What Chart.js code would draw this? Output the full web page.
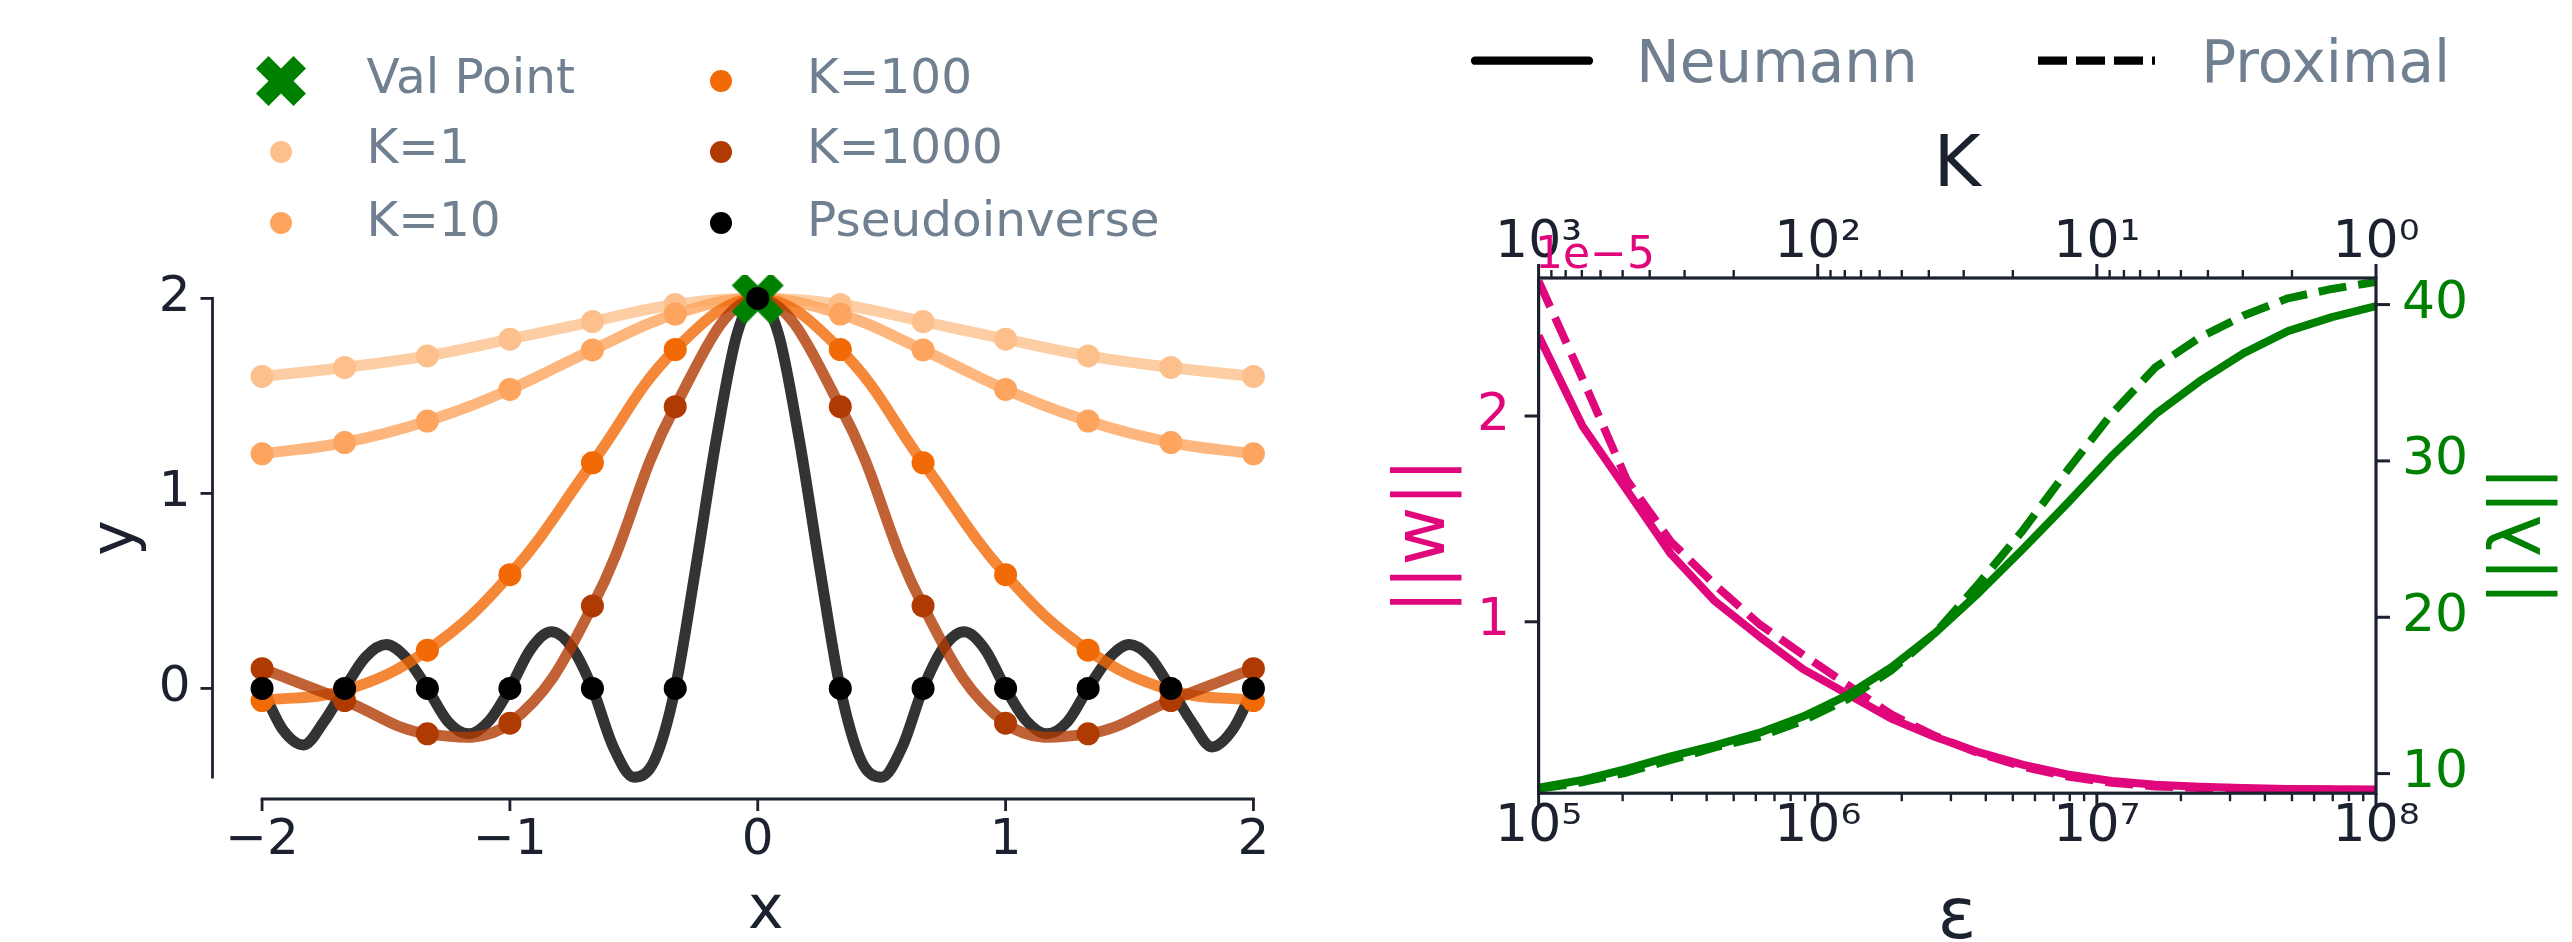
<!DOCTYPE html>
<html>
<head>
<meta charset="utf-8">
<script src="https://cdn.jsdelivr.net/npm/chart.js@4.4.1/dist/chart.umd.min.js"></script>
<style>
  html, body { margin: 0; padding: 0; background: #fff; }
  body { width: 2572px; height: 942px; position: relative; overflow: hidden; font-family: 'DejaVu Sans', sans-serif; }
  canvas.plot { position: absolute; top: 0; }
  #overlay { position: absolute; left: 0; top: 0; width: 2572px; height: 942px; }
  .txt { position: absolute; line-height: 1; white-space: nowrap; }
  .rot { position: absolute; line-height: 1; white-space: nowrap; transform: translate(-50%, -50%) rotate(-90deg); }
  .dot { position: absolute; border-radius: 50%; }
</style>
</head>
<body>
<canvas class="plot" id="fitChart" width="1330" height="942" style="left:0"></canvas>
<canvas class="plot" id="normChart" width="1242" height="942" style="left:1330px"></canvas>
<div id="overlay"></div>
<script>
// ---- left panel: fits through the 13 nodes ----
const nodeX = [-2, -1.667, -1.333, -1, -0.667, -0.333, 0, 0.333, 0.667, 1, 1.333, 1.667, 2];
const fitK1 = [1.60, 1.646, 1.705, 1.791, 1.881, 1.969, 2.0, 1.969, 1.881, 1.791, 1.705, 1.646, 1.60];
const fitK10 = [1.203, 1.261, 1.371, 1.533, 1.736, 1.92, 2.0, 1.92, 1.736, 1.533, 1.371, 1.261, 1.203];
const fitK100 = [-0.062, -0.01, 0.196, 0.583, 1.157, 1.738, 2.0, 1.738, 1.157, 0.583, 0.196, -0.01, -0.062];
const fitK1000 = [0.101, -0.062, -0.233, -0.178, 0.423, 1.445, 2.0, 1.445, 0.423, -0.178, -0.233, -0.062, 0.101];
const fitPinv = [0, 0, 0, 0, 0, 0, 2, 0, 0, 0, 0, 0, 0];
const valPoint = [0, 2];

// pseudoinverse curve, read between the nodes
const denseX = [-2, -1.917, -1.833, -1.75, -1.667, -1.583, -1.5, -1.417, -1.333, -1.25, -1.167, -1.083, -1,
  -0.917, -0.833, -0.75, -0.667, -0.583, -0.5, -0.417, -0.333, -0.25, -0.167, -0.083, 0,
  0.083, 0.167, 0.25, 0.333, 0.417, 0.5, 0.583, 0.667, 0.75, 0.833, 0.917, 1,
  1.083, 1.167, 1.25, 1.333, 1.417, 1.5, 1.583, 1.667, 1.75, 1.833, 1.917, 2];
const pinvCurve = [0, -0.21, -0.29, -0.17, 0, 0.16, 0.225, 0.155, 0, -0.17, -0.233, -0.165, 0,
  0.2, 0.29, 0.21, 0, -0.3, -0.455, -0.37, 0, 0.62, 1.28, 1.82, 2,
  1.82, 1.28, 0.62, 0, -0.37, -0.455, -0.3, 0, 0.21, 0.29, 0.2, 0,
  -0.165, -0.233, -0.17, 0, 0.155, 0.225, 0.16, 0, -0.17, -0.3, -0.21, 0];

const fitXTicks = [-2, -1, 0, 1, 2];
const fitYTicks = [0, 1, 2];

// ---- right panel: norms vs epsilon ----
const epsilon = [1.0e5, 1.438e5, 2.069e5, 2.976e5, 4.281e5, 6.158e5, 8.859e5, 1.274e6, 1.833e6, 2.637e6,
  3.793e6, 5.456e6, 7.848e6, 1.129e7, 1.624e7, 2.336e7, 3.360e7, 4.833e7, 6.952e7, 1.0e8];
// ||w|| in units of 1e-5
const wNeumann = [2.39, 1.95, 1.64, 1.33, 1.10, 0.93, 0.77, 0.65, 0.53, 0.44, 0.365, 0.305, 0.258, 0.226, 0.208, 0.198, 0.192, 0.188, 0.186, 0.185];
const wProximal = [2.655, 2.18, 1.69, 1.39, 1.18, 0.99, 0.84, 0.695, 0.55, 0.445, 0.36, 0.295, 0.248, 0.218, 0.2, 0.192, 0.187, 0.185, 0.184, 0.183];
const lamNeumann = [9.09, 9.6, 10.3, 11.1, 11.8, 12.6, 13.65, 15.0, 16.8, 19.0, 21.6, 24.4, 27.3, 30.3, 33.0, 35.1, 36.9, 38.3, 39.2, 39.9];
const lamProximal = [9.02, 9.45, 10.07, 10.87, 11.67, 12.35, 13.38, 14.75, 16.6, 19.0, 22.2, 25.6, 29.4, 33.0, 36.0, 37.9, 39.3, 40.4, 41.0, 41.45];

const epsTicks = [1e5, 1e6, 1e7, 1e8];
const kTicks = [1, 10, 100, 1000];
const wTicks = [1, 2];
const lamTicks = [10, 20, 30, 40];

const INK = '#1c2130';
const PINK = '#e0067b';
const GREEN = '#008000';
const LEGEND_GRAY = '#708090';
const FONT = 'DejaVu Sans';

Chart.defaults.font.family = FONT;

const pts = (xs, ys) => xs.map((x, i) => ({x: x, y: ys[i]}));

const SUP = {'0': '\u2070', '1': '\u00b9', '2': '\u00b2', '3': '\u00b3', '4': '\u2074',
  '5': '\u2075', '6': '\u2076', '7': '\u2077', '8': '\u2078', '9': '\u2079'};
function powLabel(v) {
  const e = Math.round(Math.log10(v));
  return '10' + String(e).split('').map(c => SUP[c]).join('');
}

function decadeTicks(majors) {
  const out = [];
  majors.forEach((m, i) => {
    out.push(m);
    if (i < majors.length - 1) for (let f = 2; f < 10; f++) out.push(m * f);
  });
  return out;
}

// filled "X" marker like matplotlib's
function makeXMarker(half, color) {
  const c = document.createElement('canvas');
  c.width = c.height = Math.ceil(half * 2) + 2;
  const g = c.getContext('2d');
  const u = half / (4 / Math.SQRT2);
  g.translate(c.width / 2, c.height / 2);
  g.rotate(Math.PI / 4);
  g.scale(u, u);
  const p = [[-1, -3], [1, -3], [1, -1], [3, -1], [3, 1], [1, 1], [1, 3], [-1, 3], [-1, 1], [-3, 1], [-3, -1], [-1, -1]];
  g.beginPath();
  p.forEach((q, i) => i ? g.lineTo(q[0], q[1]) : g.moveTo(q[0], q[1]));
  g.closePath();
  g.fillStyle = color;
  g.fill();
  return c;
}

function seg(ctx, x1, y1, x2, y2) {
  ctx.beginPath();
  ctx.moveTo(x1, y1);
  ctx.lineTo(x2, y2);
  ctx.stroke();
}

const tickFont = size => ({family: FONT, size: size});

// ---------- left chart ----------
const fitLine = (ys, xs, color, order, extra) => Object.assign({
  data: pts(xs, ys), showLine: true, borderColor: color, borderWidth: 11,
  pointRadius: 0, fill: false, order: order, tension: 0.4
}, extra || {});
const fitDots = (ys, color, order) => ({
  data: pts(nodeX, ys), showLine: false, pointRadius: 11.5,
  pointBackgroundColor: color, pointBorderWidth: 0, order: order
});

const fitFrame = {
  id: 'fitFrame',
  afterDraw(chart) {
    const {ctx, chartArea: a, scales: {x, y}} = chart;
    ctx.save();
    ctx.strokeStyle = INK;
    ctx.lineWidth = 2.8;
    ctx.lineCap = 'square';
    seg(ctx, a.left, y.getPixelForValue(fitYTicks[fitYTicks.length - 1]), a.left, y.getPixelForValue(Math.min(...pinvCurve)));
    seg(ctx, x.getPixelForValue(fitXTicks[0]), a.bottom, x.getPixelForValue(fitXTicks[fitXTicks.length - 1]), a.bottom);
    ctx.lineCap = 'butt';
    fitYTicks.forEach(v => { const p = y.getPixelForValue(v); seg(ctx, a.left - 12, p, a.left, p); });
    fitXTicks.forEach(v => { const p = x.getPixelForValue(v); seg(ctx, p, a.bottom, p, a.bottom + 12); });
    ctx.restore();
  }
};

new Chart(document.getElementById('fitChart'), {
  type: 'scatter',
  data: {
    datasets: [
      fitDots(fitPinv, '#000000', 0),
      {data: [{x: valPoint[0], y: valPoint[1]}], showLine: false, pointStyle: makeXMarker(26, GREEN), pointRadius: 26, order: 1},
      fitDots(fitK1000, '#b03b02', 2),
      fitDots(fitK100, '#f16a06', 3),
      fitDots(fitK10, '#fda55e', 4),
      fitDots(fitK1, '#fdc08c', 5),
      fitLine(fitK1000, nodeX, 'rgba(176,59,2,0.8)', 6),
      fitLine(fitK100, nodeX, 'rgba(241,106,6,0.8)', 7),
      fitLine(fitK10, nodeX, 'rgba(253,165,94,0.8)', 8),
      fitLine(fitK1, nodeX, 'rgba(253,192,140,0.8)', 9),
      fitLine(pinvCurve, denseX, 'rgba(0,0,0,0.8)', 10, {cubicInterpolationMode: 'monotone'})
    ]
  },
  options: {
    responsive: false,
    animation: false,
    devicePixelRatio: 1,
    events: [],
    layout: {padding: {top: 275, right: 13.1, left: 0, bottom: 0}},
    plugins: {legend: {display: false}, tooltip: {enabled: false}},
    scales: {
      x: {
        type: 'linear', min: -2.2, max: 2.2,
        afterBuildTicks: s => { s.ticks = fitXTicks.map(v => ({value: v})); },
        afterFit: s => { s.height = 143; },
        grid: {display: false, drawTicks: false}, border: {display: false},
        ticks: {font: tickFont(50), color: INK, padding: 12, maxRotation: 0, autoSkip: false,
          callback: v => v < 0 ? '\u2212' + Math.abs(v) : String(v)}
      },
      y: {
        type: 'linear', min: -0.567, max: 2.12,
        afterBuildTicks: s => { s.ticks = fitYTicks.map(v => ({value: v})); },
        afterFit: s => { s.width = 212.5; },
        grid: {display: false, drawTicks: false}, border: {display: false},
        ticks: {font: tickFont(50), color: INK, padding: 22, autoSkip: false}
      }
    }
  },
  plugins: [fitFrame]
});

// ---------- right chart ----------
const normLine = (ys, color, axis, dashed, order) => ({
  data: pts(epsilon, ys), showLine: true, borderColor: color, borderWidth: 8,
  borderDash: dashed ? [28, 12] : [], borderCapStyle: 'butt', borderJoinStyle: 'round',
  pointRadius: 0, tension: 0, fill: false, xAxisID: 'x', yAxisID: axis, order: order
});

function marks(ctx, scale, values, majors, side, a) {
  values.forEach(v => {
    const p = scale.getPixelForValue(v);
    const major = majors.includes(v);
    const len = major ? 14 : 8;
    ctx.lineWidth = major ? 3 : 2.4;
    if (side === 'bottom') seg(ctx, p, a.bottom, p, a.bottom + len);
    if (side === 'top') seg(ctx, p, a.top, p, a.top - len);
    if (side === 'left') seg(ctx, a.left - len, p, a.left, p);
    if (side === 'right') seg(ctx, a.right, p, a.right + len, p);
  });
}

const normFrame = {
  id: 'normFrame',
  afterDraw(chart) {
    const {ctx, chartArea: a, scales} = chart;
    ctx.save();
    ctx.strokeStyle = INK;
    ctx.lineWidth = 3.2;
    ctx.strokeRect(a.left, a.top, a.right - a.left, a.bottom - a.top);
    marks(ctx, scales.x, decadeTicks(epsTicks), epsTicks, 'bottom', a);
    marks(ctx, scales.k, decadeTicks(kTicks), kTicks, 'top', a);
    marks(ctx, scales.yW, wTicks, wTicks, 'left', a);
    marks(ctx, scales.yL, lamTicks, lamTicks, 'right', a);
    ctx.restore();
  }
};

const logAxis = (majors, extra) => Object.assign({
  type: 'logarithmic',
  afterBuildTicks: s => { s.ticks = decadeTicks(majors).map(v => ({value: v, major: majors.includes(v)})); },
  grid: {display: false, drawTicks: false}, border: {display: false},
  ticks: {font: tickFont(52), color: INK, maxRotation: 0, autoSkip: false,
    callback: v => majors.includes(v) ? powLabel(v) : ''}
}, extra);

new Chart(document.getElementById('normChart'), {
  type: 'scatter',
  data: {
    datasets: [
      normLine(lamNeumann, GREEN, 'yL', false, 0),
      normLine(lamProximal, GREEN, 'yL', true, 1),
      normLine(wNeumann, PINK, 'yW', false, 2),
      normLine(wProximal, PINK, 'yW', true, 3)
    ]
  },
  options: {
    responsive: false,
    animation: false,
    devicePixelRatio: 1,
    events: [],
    layout: {padding: 0},
    plugins: {legend: {display: false}, tooltip: {enabled: false}},
    scales: {
      x: logAxis(epsTicks, {axis: 'x', position: 'bottom', min: 1e5, max: 1e8,
        afterFit: s => { s.height = 148.8; }}),
      k: logAxis(kTicks, {axis: 'x', position: 'top', min: 1, max: 1000, reverse: true,
        afterFit: s => { s.height = 278; }}),
      yW: {
        axis: 'y', type: 'linear', position: 'left', min: 0.1671, max: 2.6706,
        afterBuildTicks: s => { s.ticks = wTicks.map(v => ({value: v})); },
        afterFit: s => { s.width = 208.6; },
        grid: {display: false, drawTicks: false}, border: {display: false},
        ticks: {font: tickFont(52), color: PINK, padding: 28.6, autoSkip: false}
      },
      yL: {
        axis: 'y', type: 'linear', position: 'right', min: 8.746, max: 41.70,
        afterBuildTicks: s => { s.ticks = lamTicks.map(v => ({value: v})); },
        afterFit: s => { s.width = 196; },
        grid: {display: false, drawTicks: false}, border: {display: false},
        ticks: {font: tickFont(52), color: GREEN, padding: 26, autoSkip: false}
      }
    }
  },
  plugins: [normFrame]
});

// ---------- text and legends ----------
const overlay = document.getElementById('overlay');

function addText(str, x, baseline, size, color, center) {
  const d = document.createElement('div');
  d.className = 'txt';
  d.textContent = str;
  d.style.fontSize = size + 'px';
  d.style.color = color;
  d.style.left = x + 'px';
  d.style.top = (baseline - 0.846 * size) + 'px';
  if (center) d.style.transform = 'translateX(-50%)';
  overlay.appendChild(d);
}

function addRotated(str, cx, cy, size, color) {
  const d = document.createElement('div');
  d.className = 'rot';
  d.textContent = str;
  d.style.fontSize = size + 'px';
  d.style.color = color;
  d.style.left = cx + 'px';
  d.style.top = cy + 'px';
  overlay.appendChild(d);
}

function addDot(cx, cy, r, color) {
  const d = document.createElement('div');
  d.className = 'dot';
  d.style.width = d.style.height = (2 * r) + 'px';
  d.style.left = (cx - r) + 'px';
  d.style.top = (cy - r) + 'px';
  d.style.background = color;
  overlay.appendChild(d);
}

// left legend (two columns)
const xm = makeXMarker(25, GREEN);
xm.style.position = 'absolute';
xm.style.left = (280.6 - xm.width / 2) + 'px';
xm.style.top = (80.7 - xm.height / 2) + 'px';
overlay.appendChild(xm);
addDot(280.6, 151.7, 11, '#fdc08c');
addDot(280.6, 222.7, 11, '#fda55e');
addDot(721, 80.7, 11, '#f16a06');
addDot(721, 151.7, 11, '#b03b02');
addDot(721, 222.7, 11, '#000000');
addText('Val Point', 366.5, 93.3, 48.5, LEGEND_GRAY);
addText('K=1', 366.5, 163.3, 48.5, LEGEND_GRAY);
addText('K=10', 366.5, 236, 48.5, LEGEND_GRAY);
addText('K=100', 807, 93.3, 48.5, LEGEND_GRAY);
addText('K=1000', 807, 163.3, 48.5, LEGEND_GRAY);
addText('Pseudoinverse', 807, 236, 48.5, LEGEND_GRAY);

// right legend
const svgNS = 'http://www.w3.org/2000/svg';
const svg = document.createElementNS(svgNS, 'svg');
svg.setAttribute('width', '2572');
svg.setAttribute('height', '942');
svg.style.position = 'absolute';
svg.style.left = '0';
svg.style.top = '0';
function svgLine(x1, x2, y, dash, cap) {
  const l = document.createElementNS(svgNS, 'line');
  l.setAttribute('x1', x1); l.setAttribute('x2', x2);
  l.setAttribute('y1', y); l.setAttribute('y2', y);
  l.setAttribute('stroke', '#000');
  l.setAttribute('stroke-width', '8.3');
  l.setAttribute('stroke-linecap', cap);
  if (dash) l.setAttribute('stroke-dasharray', dash);
  svg.appendChild(l);
}
svgLine(1475, 1589, 60.7, null, 'round');
svgLine(2038, 2155, 60.7, '29 9', 'butt');
overlay.appendChild(svg);
addText('Neumann', 1636.3, 81.7, 58, LEGEND_GRAY);
addText('Proximal', 2201.3, 81.7, 58, LEGEND_GRAY);

// axis titles
addText('x', 765.7, 927.3, 60, INK, true);
addRotated('y', 112, 538, 60, INK);
addText('\u03b5', 1957, 938, 72, INK, true);
addText('K', 1957, 186, 72, INK, true);
addRotated('||w||', 1418.8, 535.6, 72, PINK);
addRotated('||\u03bb||', 2515, 535.6, 72, GREEN);
addText('1e\u22125', 1535, 268, 44, PINK);
</script>
</body>
</html>
